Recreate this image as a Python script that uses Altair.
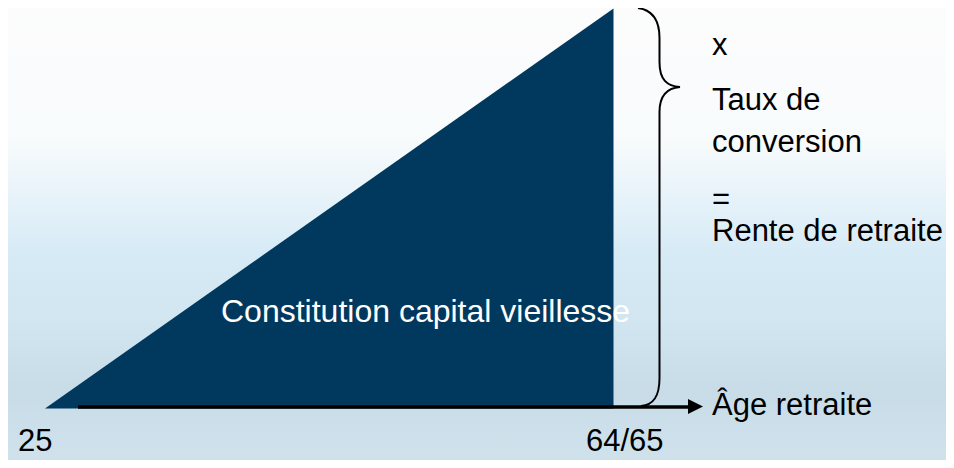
import altair as alt
import pandas as pd

# ---- data ----
ages = [25, 64.5]                 # start age, retirement age (64/65)
age_labels = ["25", "64/65"]
capital = [0, 100]                # accumulated capital (relative)
right_labels = ["x", "Taux de", "conversion", "=", "Rente de retraite"]
axis_label = "Âge retraite"
inner_label = "Constitution capital vieillesse"

# ---- layout (page pixels -> data units) ----
W, H = 938, 452
X0_PX, X1_PX = 45, 613.5
Y0_PX, Y1_PX = 408.5, 8.5
kx = (X1_PX - X0_PX) / (ages[1] - ages[0])
ky = (Y0_PX - Y1_PX) / (capital[1] - capital[0])


def ax(px):
    return ages[0] + (px - X0_PX) / kx


def cy(py):
    return capital[0] + (Y0_PX - py) / ky


xs = alt.Scale(domain=[ax(8), ax(8 + W)], nice=False, zero=False)
ys = alt.Scale(domain=[cy(8 + H), cy(8)], nice=False, zero=False)
FONT = "Liberation Sans"

bg_grad = alt.Gradient(
    gradient="linear", x1=0, x2=0, y1=0, y2=1,
    stops=[
        alt.GradientStop(offset=0.0, color="#fcfcfc"),
        alt.GradientStop(offset=0.29, color="#f8fbfc"),
        alt.GradientStop(offset=0.425, color="#e6f2f9"),
        alt.GradientStop(offset=0.535, color="#d7ebf6"),
        alt.GradientStop(offset=0.69, color="#d2e6f1"),
        alt.GradientStop(offset=0.845, color="#c8dce8"),
        alt.GradientStop(offset=1.0, color="#cfe2ec"),
    ],
)

background = alt.Chart(pd.DataFrame({"a": [0]})).mark_rect(color=bg_grad).encode(
    x=alt.value(0), x2=alt.value("width"), y=alt.value(0), y2=alt.value("height")
)

tri_df = pd.DataFrame({"age": ages, "cap": capital, "base": [capital[0]] * 2})
triangle = alt.Chart(tri_df).mark_area(color="#01395e", opacity=1).encode(
    x=alt.X("age:Q", scale=xs, axis=None),
    y=alt.Y("cap:Q", scale=ys, axis=None),
    y2="base:Q",
)

arrow_df = pd.DataFrame({"x": [ax(78)], "x2": [ax(690)], "y": [cy(407)]})
arrow_line = alt.Chart(arrow_df).mark_rule(color="black", strokeWidth=3.5).encode(
    x=alt.X("x:Q", scale=xs, axis=None), x2="x2:Q",
    y=alt.Y("y:Q", scale=ys, axis=None),
)
head_df = pd.DataFrame({"x": [ax(695.5)], "y": [cy(406.5)]})
arrow_head = alt.Chart(head_df).mark_point(
    shape="M-1,-1L1,0L-1,1Z", size=225, filled=True, color="black", opacity=1
).encode(
    x=alt.X("x:Q", scale=xs, axis=None), y=alt.Y("y:Q", scale=ys, axis=None)
)

# curly brace (unit-square path, scaled by size)
brace_path = (
    "M-0.1075,-0.995 C-0.0375,-0.985 0,-0.935 0,-0.845 L0,-0.725 "
    "C0,-0.635 0.0375,-0.605 0.1025,-0.6 C0.0375,-0.595 0,-0.56 0,-0.475 "
    "L0,0.855 C0,0.945 -0.0275,0.99 -0.0925,0.995"
)
brace_df = pd.DataFrame({"x": [ax(659.5)], "y": [cy(207)]})
brace = alt.Chart(brace_df).mark_point(
    shape=brace_path, size=160000, filled=False, stroke="black",
    strokeWidth=2, opacity=1
).encode(
    x=alt.X("x:Q", scale=xs, axis=None), y=alt.Y("y:Q", scale=ys, axis=None)
)

r_df = pd.DataFrame({
    "label": right_labels + [axis_label],
    "x": [ax(712)] * 6,
    "y": [cy(p) for p in [55, 110, 152, 209, 241, 415]],
})
right_text = alt.Chart(r_df).mark_text(
    align="left", baseline="alphabetic", font=FONT, fontSize=31, color="black"
).encode(
    x=alt.X("x:Q", scale=xs, axis=None), y=alt.Y("y:Q", scale=ys, axis=None),
    text="label:N",
)

a_df = pd.DataFrame({
    "label": age_labels,
    "x": [ax(18), ax(586)],
    "y": [cy(451)] * 2,
})
age_text = alt.Chart(a_df).mark_text(
    align="left", baseline="alphabetic", font=FONT, fontSize=31, color="black",
).encode(
    x=alt.X("x:Q", scale=xs, axis=None), y=alt.Y("y:Q", scale=ys, axis=None),
    text="label:N",
)

i_df = pd.DataFrame({"label": [inner_label], "x": [ax(221)], "y": [cy(322)]})
inner_text = alt.Chart(i_df).mark_text(
    align="left", baseline="alphabetic", font=FONT, fontSize=32, color="white"
).encode(
    x=alt.X("x:Q", scale=xs, axis=None), y=alt.Y("y:Q", scale=ys, axis=None),
    text="label:N",
)

chart = alt.layer(
    background, triangle, arrow_line, arrow_head, brace,
    right_text, age_text, inner_text,
).properties(
    width=W, height=H, padding=0, autosize=alt.AutoSizeParams(type="none"),
    background="#ffffff",
).configure_view(stroke=None)

chart.save("out.html", embed_options={"renderer": "svg", "actions": False})
